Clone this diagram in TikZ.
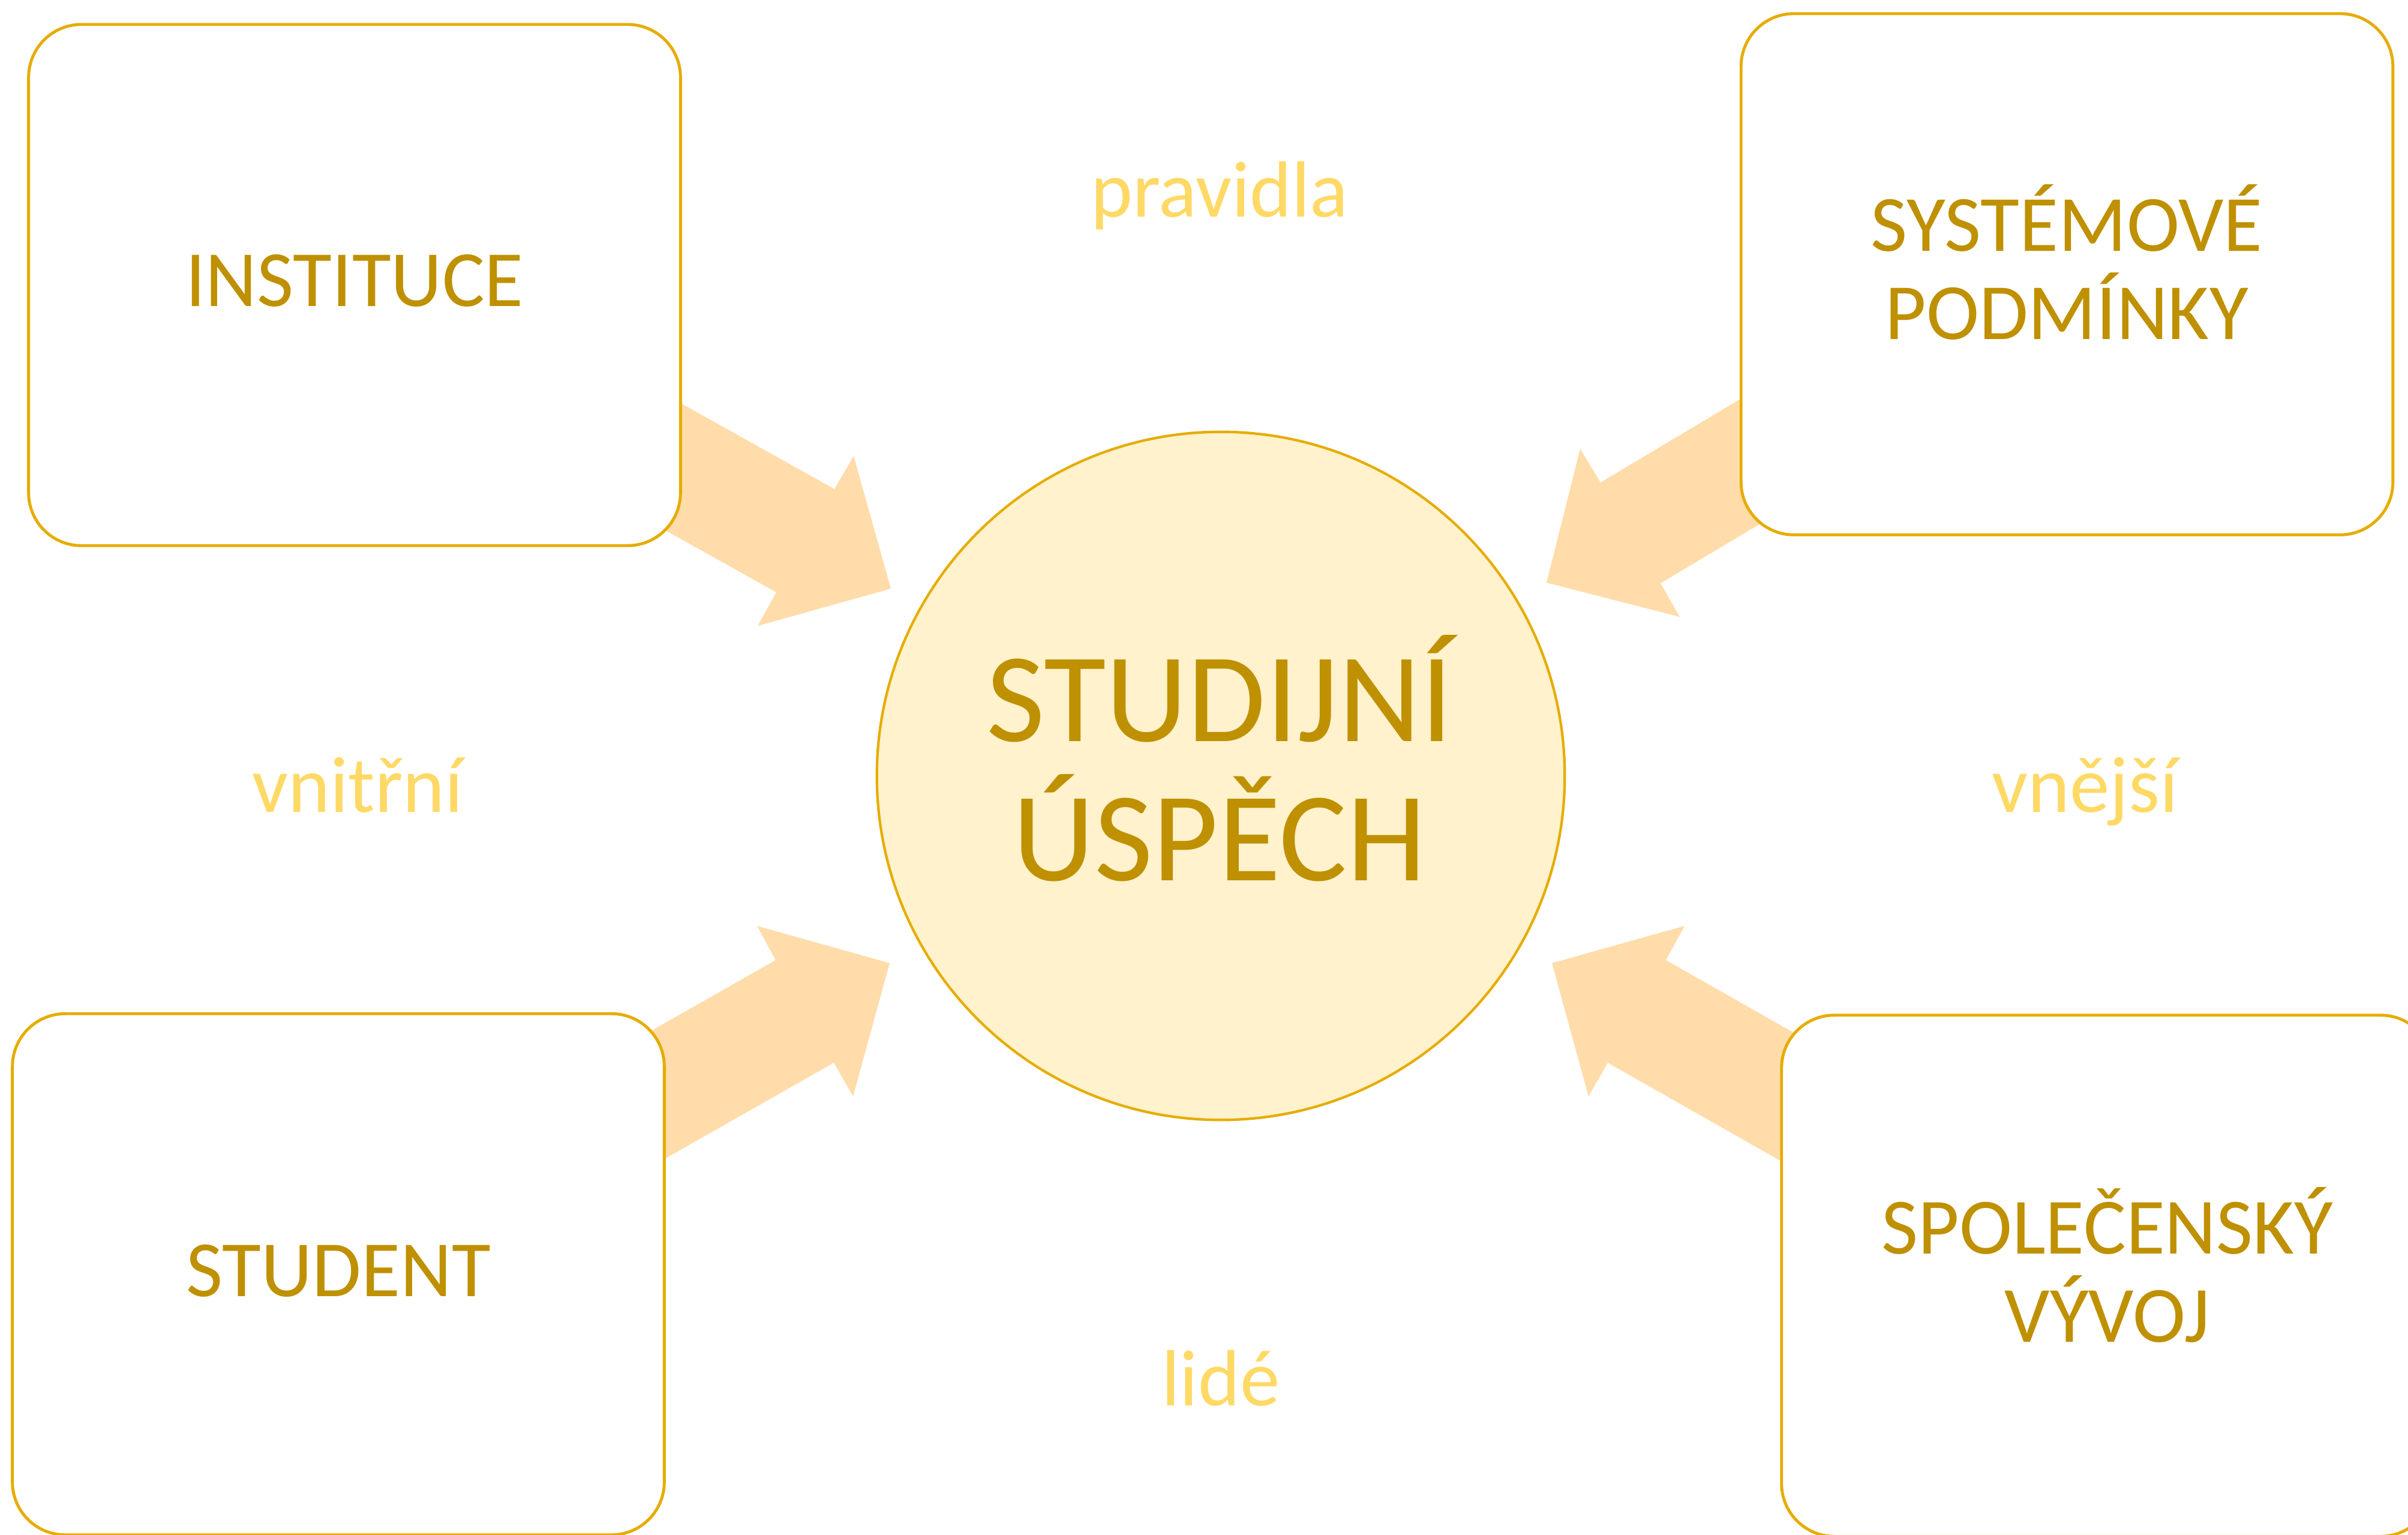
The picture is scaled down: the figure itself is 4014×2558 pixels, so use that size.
\documentclass[tikz,border=0pt]{standalone}
\usepackage{fontspec}
\setmainfont{Carlito}
\definecolor{boxtext}{HTML}{BF9000}
\definecolor{bordercol}{HTML}{E6AC00}
\definecolor{circfill}{HTML}{FFF2CC}
\definecolor{arrowfill}{HTML}{FFDCAA}
\definecolor{labelcol}{HTML}{FFD966}
\begin{document}
\begin{tikzpicture}[x=0.01cm,y=-0.01cm,
  box/.style={draw=bordercol, line width=1.4pt, fill=white, rounded corners=0.88cm,
    minimum width=10.86cm, minimum height=8.68cm, inner sep=0pt, outer sep=0pt},
  hub/.style={circle, draw=bordercol, line width=1.2pt, fill=circfill,
    minimum size=11.46cm, inner sep=0pt, outer sep=0pt},
  boxlabel/.style={text=boxtext, anchor=base, inner sep=0pt,
    font=\fontsize{37.8pt}{41.6pt}\selectfont},
  hublabel/.style={text=boxtext, anchor=base, inner sep=0pt,
    font=\fontsize{60.3pt}{66pt}\selectfont},
  sidelabel/.style={text=labelcol, anchor=base, inner sep=0pt,
    font=\fontsize{37.8pt}{41.6pt}\selectfont},
  bigarrow/.style={fill=arrowfill, draw=none}]
\useasboundingbox (0,0) rectangle (4014,2558);
\fill[white] (0,0) rectangle (4014,2558);

% block arrows (tails hidden behind the boxes)
\fill[bigarrow] (954,571) -- (1391,815) -- (1423,760) -- (1485,981) -- (1263,1043) -- (1294,987) -- (857,743) -- cycle;
\fill[bigarrow] (3097,548) -- (2668,804) -- (2634,748) -- (2578,971) -- (2800,1028) -- (2768,972) -- (3197,716) -- cycle;
\fill[bigarrow] (858,1847) -- (1293,1600) -- (1262,1543) -- (1483,1605) -- (1422,1827) -- (1390,1771) -- (955,2018) -- cycle;
\fill[bigarrow] (3212,1847) -- (2777,1600) -- (2808,1543) -- (2587,1605) -- (2648,1827) -- (2680,1771) -- (3115,2018) -- cycle;

% boxes
\node[box] (inst) at (591,475) {};
\node[box] (sys) at (3445.5,457) {};
\node[box] (stud) at (564,2123.5) {};
\node[box] (spol) at (3513,2126) {};
\node[hub] (hub) at (2035,1293) {};

% box texts
\node[boxlabel] (instT) at (591,511) {INSTITUCE};
\node[boxlabel] (sysT1) at (3445,419) {SYSTÉMOVÉ};
\node[boxlabel] (sysT2) at (3445,566) {PODMÍNKY};
\node[boxlabel] (studT) at (564,2160) {STUDENT};
\node[boxlabel] (spolT1) at (3513,2089) {SPOLEČENSKÝ};
\node[boxlabel] (spolT2) at (3513,2236) {VÝVOJ};
\node[hublabel] (hubT1) at (2033,1235) {STUDIJNÍ};
\node[hublabel] (hubT2) at (2033,1467) {ÚSPĚCH};

% side labels
\node[sidelabel] (prav) at (2033,362) {pravidla};
\node[sidelabel] (vnit) at (596,1353) {vnitřní};
\node[sidelabel] (vnej) at (3476,1353) {vnější};
\node[sidelabel] (lide) at (2035,2342) {lidé};
\end{tikzpicture}
\end{document}
